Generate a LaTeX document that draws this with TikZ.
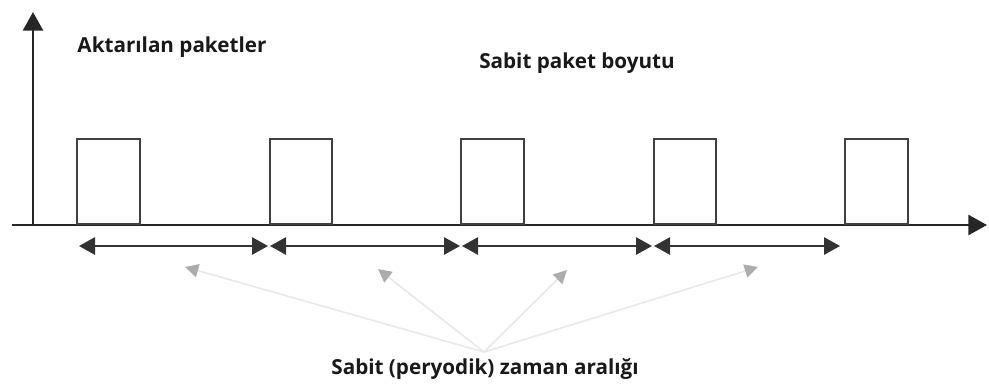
\documentclass[tikz,border=0pt]{standalone}
\usepackage{fontspec}
\setmainfont{Open Sans}
\usepackage{tikz}
\usetikzlibrary{arrows.meta,positioning,calc}

\begin{document}
\begin{tikzpicture}[
    x=0.75pt,
    y=-0.75pt,
    font=\fontsize{15.5}{17}\selectfont\bfseries,
    packet/.style={
        draw=black!75,
        line width=1.4pt,
        minimum width=47pt,
        minimum height=63.5pt,
        anchor=south,
        inner sep=0pt
    },
    axis/.style={-{Triangle[length=14pt,width=15pt]}, line width=2pt, black!85},
    span/.style={{Triangle[length=12pt,width=13pt]}-{Triangle[length=12pt,width=13pt]}, line width=1.3pt, black!80},
    hint/.style={-{Triangle[length=10pt,width=10pt,color=gray!65]}, line width=1.2pt, gray!18},
    caption/.style={text=black!90, inner sep=1pt}
]
\useasboundingbox (0,0) rectangle (989,387);

% axes
\coordinate (origin) at (33,225);
\coordinate (ytop) at (33,12);
\coordinate (xleft) at (12,225);
\coordinate (xright) at (987,225);
\draw[axis] (origin) -- (ytop);
\draw[axis] (xleft) -- (xright);

% packets on the time axis
\node[packet] (p1) at (108.5,225) {};
\node[packet] (p2) at (301,225) {};
\node[packet] (p3) at (492.5,225) {};
\node[packet] (p4) at (685,225) {};
\node[packet] (p5) at (876.5,225) {};

% labels
\node[caption] (sent) at (172,47) {Aktarılan paketler};
\node[caption] (size) at (577,63) {Sabit paket boyutu};
\node[caption] (interval) at (485,369) {Sabit (peryodik) zaman aralığı};

% intervals between packets
\coordinate (t0) at (79,246);
\coordinate (t1) at (269,246);
\coordinate (t2) at (461,246);
\coordinate (t3) at (653,246);
\coordinate (t4) at (840,246);
\draw[span] (t0) -- ($(t1)+(-1,0)$);
\draw[span] ($(t1)+(1,0)$) -- ($(t2)+(-1,0)$);
\draw[span] ($(t2)+(1,0)$) -- ($(t3)+(-1,0)$);
\draw[span] ($(t3)+(1,0)$) -- (t4);

% pointers from the interval label
\coordinate (meet) at (484,352);
\coordinate (h1) at (185,267);
\coordinate (h2) at (378,269);
\coordinate (h3) at (567,270);
\coordinate (h4) at (758,267);
\draw[hint] (meet) -- (h1);
\draw[hint] (meet) -- (h2);
\draw[hint] (meet) -- (h3);
\draw[hint] (meet) -- (h4);

\end{tikzpicture}
\end{document}
